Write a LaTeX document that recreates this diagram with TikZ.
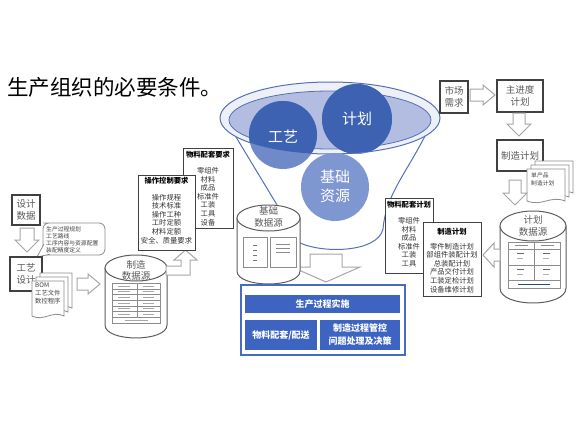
\documentclass[tikz,border=0pt]{standalone}
\usepackage{fontspec}
\setmainfont{Noto Sans CJK SC}
\definecolor{boxline}{HTML}{404040}
\definecolor{boxtext}{HTML}{595959}
\definecolor{arrline}{HTML}{A6A6A6}
\definecolor{funnelline}{HTML}{5470B8}
\definecolor{ringfill}{HTML}{EEF0F8}
\definecolor{ellfill}{HTML}{B3BDE1}
\definecolor{darkblue}{HTML}{3E62B2}
\definecolor{midblue}{HTML}{7089C9}
\definecolor{lightblue}{HTML}{7F97D1}
\definecolor{panelblue}{HTML}{3C64C0}
\definecolor{frameblue}{HTML}{4A6CC0}
\definecolor{gridgray}{HTML}{8C8C8C}
\tikzset{
  graybox/.style={draw=boxline, line width=1.3pt, fill=white, text=boxtext, align=center, inner sep=0pt, font=\fontsize{9.5}{12}\selectfont},
  listbox/.style={draw=boxline, line width=1pt, fill=white, inner sep=0pt},
  listtext/.style={align=center, inner sep=0pt, text=black!80, font=\fontsize{7.3}{8.6}\selectfont},
  blockarrow/.style={draw=arrline, line width=1pt, fill=white, line join=miter},
  cylline/.style={draw=boxline!85, line width=1pt, fill=white},
  cyltext/.style={align=center, inner sep=0pt, text=boxtext, font=\fontsize{9.5}{11.5}\selectfont},
  docsheet/.style={draw=gridgray, line width=0.8pt, fill=white},
  smalltext/.style={align=left, inner sep=0pt, text=black!75, font=\fontsize{6}{7.3}\selectfont},
  grid/.style={draw=gridgray, line width=0.4pt},
  panel/.style={fill=panelblue, text=white, inner sep=0pt, align=center, font=\bfseries\fontsize{9}{13}\selectfont},
  circtext/.style={text=white, align=center, inner sep=0pt, font=\fontsize{15}{19}\selectfont},
}
% cx, rx, ytop(center of top ellipse), ry, ybody-bottom
\newcommand\mycyl[5]{%
  \path[cylline] ({#1-#2},#3) -- ({#1-#2},#5) .. controls ({#1-#2},{#5+1.33*#4}) and ({#1+#2},{#5+1.33*#4}) .. ({#1+#2},#5) -- ({#1+#2},#3) -- cycle;
  \draw[cylline] (#1,#3) ellipse [x radius=#2, y radius=#4];}
% cx, ytop, ytip, shaftHalf, headHalf, headLen
\newcommand\myarrdown[6]{%
  \draw[blockarrow] ({#1-#4},#2) -- ({#1+#4},#2) -- ({#1+#4},{#3-#6}) -- ({#1+#5},{#3-#6}) -- (#1,#3) -- ({#1-#5},{#3-#6}) -- ({#1-#4},{#3-#6}) -- cycle;}
% cy, xtail, xtip, shaftHalf, headHalf, headLen
\newcommand\myarrright[6]{%
  \draw[blockarrow] (#2,{#1-#4}) -- ({#3-#6},{#1-#4}) -- ({#3-#6},{#1-#5}) -- (#3,#1) -- ({#3-#6},{#1+#5}) -- ({#3-#6},{#1+#4}) -- (#2,{#1+#4}) -- cycle;}
% x1,y1,x2,y2
\newcommand\mydoc[4]{%
  \draw[docsheet] (#1,#2) -- (#3,#2) -- (#3,#4) .. controls ({(#1+#3)/2+4},{#4-6}) and ({(#1+#3)/2-4},{#4+6}) .. (#1,#4) -- cycle;}
\begin{document}
\begin{tikzpicture}[x=1pt,y=-1pt]
\useasboundingbox (0,0) rectangle (579,434);
\fill[white] (0,0) rectangle (579,434);

% title
\node[anchor=west, inner sep=0pt, font=\fontsize{21.5}{24}\selectfont] (title) at (7,87) {生产组织的必要条件。};

% ---------------- funnel ----------------
\draw[funnelline, line width=1pt, fill=ringfill] (330,118) ellipse [x radius=110, y radius=36];
\draw[funnelline, line width=0.8pt, fill=ellfill] (330,120) ellipse [x radius=101, y radius=29];
\draw[funnelline, line width=1pt] (236,137) -- (300,243);
\draw[funnelline, line width=1pt] (425,136) .. controls (405,175) and (386,195) .. (383,229)
   .. controls (378,252) and (325,254) .. (300,243);
% circles
\fill[midblue] (283,135) circle [radius=34];
\fill[midblue] (357,119) circle [radius=35];
\begin{scope}
  \clip (330,118) ellipse [x radius=110, y radius=36];
  \fill[darkblue] (283,135) circle [radius=34];
  \fill[darkblue] (357,119) circle [radius=35];
\end{scope}
\fill[lightblue] (335,187) circle [radius=34];
\node[circtext] (gongyi) at (283,137) {工艺};
\node[circtext] (jihua) at (357,119) {计划};
\node[circtext] (jichu) at (335,186) {基础\\资源};

% funnel down arrow
\myarrdown{326}{254}{282}{16}{34}{15}

% base data source cylinder
\mycyl{268.5}{31.5}{218}{13}{271}
\node[cyltext] (baseds) at (268.5,217) {基础\\数据源};
\draw[grid] (243,237) rectangle (267,267);
\draw[grid] (270,237) rectangle (296,267);
\foreach \yy in {245,250,255,260} {\draw[black!55, line width=0.8pt] (253,\yy) -- (257,\yy);}
\foreach \yy in {244,248,252} {\draw[black!45, line width=0.6pt] (276,\yy) -- (290,\yy);}

% ---------------- execution block ----------------
\node[draw=frameblue, line width=1.5pt, fill=white, minimum width=164, minimum height=70, inner sep=0pt] (execframe) at (323,320) {};
\node[panel, minimum width=155, minimum height=18] (impl) at (322.5,304) {生产过程实施};
\node[panel, minimum width=72, minimum height=30] (material) at (281,335) {物料配套/配送};
\node[panel, minimum width=80, minimum height=30] (control) at (360,335) {制造过程管控\\问题处理及决策};

% ---------------- left side ----------------
\node[graybox, minimum width=28, minimum height=30] (design) at (26,210) {设计\\数据};
\myarrdown{27}{228}{252}{7}{12}{12}
% callout
\draw[draw=gridgray, line width=0.8pt, fill=white, rounded corners=6pt]
  (49,223) -- (105,223) -- (105,255) -- (49,255) -- (43,255) -- (43,223) -- cycle;
\draw[draw=gridgray, line width=0.8pt, fill=white] (44,244) -- (37,257) -- (50,254.2);
\fill[white] (44.5,245) -- (39.5,255.5) -- (50,253.5) -- (50,245) -- cycle;
\node[smalltext, anchor=north west, font=\fontsize{5.8}{7}\selectfont] (callouttext) at (46,226) {生产过程规划\\工艺路线\\工序内容与资源配置\\装配精度定义};

\node[graybox, minimum width=32, minimum height=34] (craft) at (26,274) {工艺\\设计};
\mydoc{40}{273}{72}{308}
\mydoc{36}{277}{68}{312}
\mydoc{32}{281}{64}{316}
\node[smalltext, anchor=north west, font=\fontsize{6.3}{8}\selectfont] (docs) at (35,283) {BOM\\工艺文件\\数控程序};
\myarrright{284}{77}{100}{6}{10}{12}

% manufacturing data source
\mycyl{136}{31}{268}{13}{325}
\node[cyltext] (mfgds) at (136,270.5) {制造\\数据源};
\draw[grid] (112,283) rectangle (160,323);
\draw[grid] (137,283) -- (137,317);
\foreach \yy in {288.7,294.4,300.1,305.8,311.5,317.2} {\draw[grid] (112,\yy) -- (160,\yy);}
\foreach \yy in {286,291.5,297.2,302.9,308.6,314.3} {\draw[black!35, line width=0.5pt] (118,\yy) -- (130,\yy); \draw[black!35, line width=0.5pt] (143,\yy) -- (154,\yy);}
\draw[black!35, line width=0.5pt] (125,320) -- (148,320);

% bent arrow
\draw[blockarrow] (166,275) -- (190,275) -- (190,260) -- (197,260) -- (185.5,250) -- (174,260) -- (181,260) -- (181,266) -- (166,266) -- cycle;

% requirement boxes
\node[listbox, minimum width=50, minimum height=80] (matreq) at (208,188) {};
\node[listtext, anchor=north] (matreqtext) at (208,151) {{\bfseries\color{black} 物料配套要求}\\[7.5pt]零组件\\材料\\成品\\标准件\\工装\\工具\\设备};
\node[listbox, minimum width=57, minimum height=75] (opreq) at (166.5,212.5) {};
\node[listtext, anchor=north] (opreqtext) at (166.5,177) {{\bfseries\color{black} 操作控制要求}\\[8pt]操作规程\\技术标准\\操作工种\\工时定额\\材料定额\\安全、质量要求};

% ---------------- right side ----------------
\node[graybox, minimum width=28, minimum height=32] (market) at (454,97) {市场\\需求};
\myarrright{95}{470}{495}{6}{10}{12}
\node[graybox, minimum width=46, minimum height=32] (master) at (520,96) {主进度\\计划};
\myarrdown{519}{113}{136}{6}{12}{12}
\node[graybox, minimum width=46, minimum height=31] (mfgplan) at (520,155.5) {制造计划};
\mydoc{535}{161}{573}{193}
\mydoc{531}{165}{569}{197}
\mydoc{527}{169}{565}{201}
\node[smalltext, anchor=north west, font=\fontsize{5.8}{8}\selectfont] (plandoc) at (531,172) {单产品\\制造计划};
\myarrdown{515}{180}{205}{6}{12}{12}

% plan data source
\mycyl{533}{33}{226}{15}{288}
\node[cyltext] (planDS) at (533,226) {计划\\数据源};
\draw[grid] (508,242) rectangle (560,288);
\draw[grid] (508,249) -- (560,249);
\draw[grid] (508,265) -- (560,265);
\draw[grid] (508,280) -- (560,280);
\draw[grid] (534,242) -- (534,280);
\foreach \xx in {515,541} {
  \draw[black!45, line width=0.5pt] (\xx,245.5) -- ({\xx+13},245.5);
  \draw[black!60, line width=0.6pt] ({\xx+2},253) -- ({\xx+9},253);
  \draw[black!30, line width=0.5pt] ({\xx+2},258) -- ({\xx+8},258);
  \draw[black!60, line width=0.6pt] ({\xx+2},269) -- ({\xx+9},269);
  \draw[black!30, line width=0.5pt] ({\xx+2},274) -- ({\xx+8},274);
}
\draw[panelblue!70!black, line width=0.8pt] (518,284) -- (550,284);
\myarrright{255}{500}{483}{6}{12}{-11}

\node[listbox, minimum width=48, minimum height=75] (matplan) at (409,235.5) {};
\node[listtext, anchor=north] (matplantext) at (409,201) {{\bfseries\color{black} 物料配套计划}\\[7.5pt]零组件\\材料\\成品\\标准件\\工装\\工具};
\node[listbox, minimum width=58, minimum height=74] (mfgplanbox) at (452,259) {};
\node[listtext, anchor=north] (mfgplantext) at (452,228) {{\bfseries\color{black} 制造计划}\\[6pt]零件制造计划\\部组件装配计划\\总装配计划\\产品交付计划\\工装定检计划\\设备维修计划};
\end{tikzpicture}
\end{document}
